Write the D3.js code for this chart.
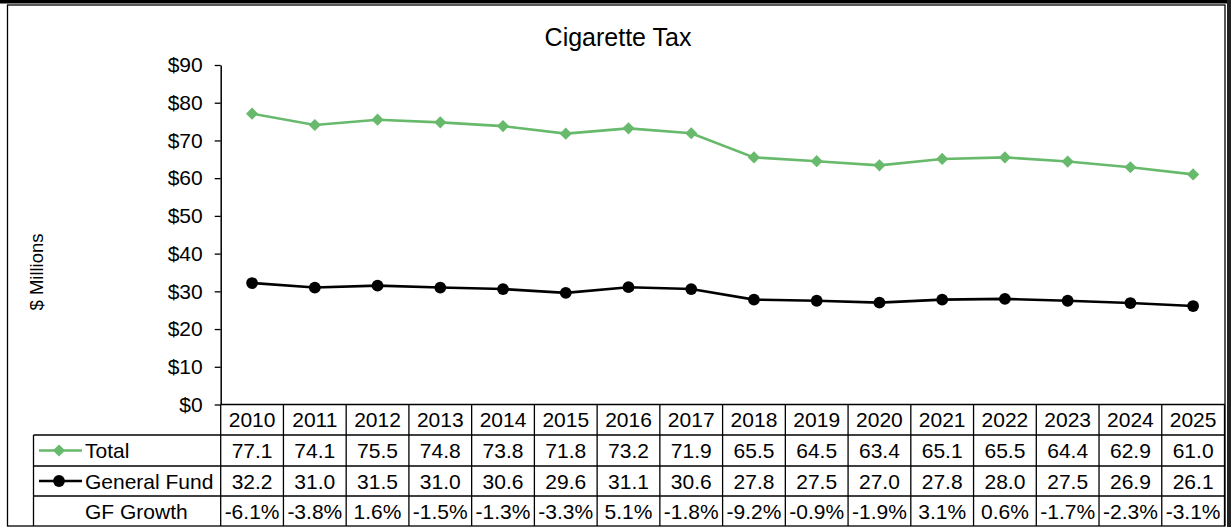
<!DOCTYPE html>
<html>
<head>
<meta charset="utf-8">
<script src="https://cdn.jsdelivr.net/npm/d3@7/dist/d3.min.js"></script>
<style>
  html, body { margin: 0; padding: 0; background: #fff; }
  svg { display: block; font-family: "Liberation Sans", Arial, sans-serif; }
</style>
</head>
<body>
<svg id="chart" width="1231" height="527"></svg>
<script>
// Cigarette tax collections, $ millions, fiscal years 2010-2025
const years = ["2010","2011","2012","2013","2014","2015","2016","2017","2018","2019","2020","2021","2022","2023","2024","2025"];
const totalValues = [77.1, 74.1, 75.5, 74.8, 73.8, 71.8, 73.2, 71.9, 65.5, 64.5, 63.4, 65.1, 65.5, 64.4, 62.9, 61.0];
const generalFundValues = [32.2, 31.0, 31.5, 31.0, 30.6, 29.6, 31.1, 30.6, 27.8, 27.5, 27.0, 27.8, 28.0, 27.5, 26.9, 26.1];
const gfGrowth = [-6.1, -3.8, 1.6, -1.5, -1.3, -3.3, 5.1, -1.8, -9.2, -0.9, -1.9, 3.1, 0.6, -1.7, -2.3, -3.1];
const yTicks = [0, 10, 20, 30, 40, 50, 60, 70, 80, 90];
const seriesNames = ["Total", "General Fund"];
const growthLabel = "GF Growth";

const svg = d3.select("#chart");
const green = "#67b96b";
const fs = 21;

// frame
svg.append("rect").attr("x", 0).attr("y", 0).attr("width", 1231).attr("height", 3.5).attr("fill", "#000");
svg.append("rect").attr("x", 1227).attr("y", 0).attr("width", 4).attr("height", 527).attr("fill", "#222");
svg.append("rect").attr("x", 7.5).attr("y", 5).attr("width", 1217.5).attr("height", 521)
  .attr("fill", "#fff").attr("stroke", "#000").attr("stroke-width", 1.3);

const plotLeft = 220.7, plotRight = 1224.5, plotTop = 65, plotBottom = 404.5;

const x = d3.scaleBand().domain(years).range([plotLeft, plotRight]).padding(0);
const y = d3.scaleLinear().domain([0, 90]).range([plotBottom, plotTop]);
const cx = i => x(years[i]) + x.bandwidth() / 2;

// title
svg.append("text").attr("x", 618).attr("y", 46).attr("text-anchor", "middle")
  .attr("font-size", 25).attr("fill", "#000").text("Cigarette Tax");

// y axis title
svg.append("text").attr("transform", "translate(43,272) rotate(-90)")
  .attr("text-anchor", "middle").attr("font-size", 18.5).text("$ Millions");

// y axis
const yAxis = d3.axisLeft(y).tickValues(yTicks).tickSize(6).tickSizeOuter(0).tickPadding(12)
  .tickFormat(d => "$" + d);
const ga = svg.append("g").attr("transform", `translate(${plotLeft},0)`).call(yAxis);
ga.select(".domain").attr("stroke", "#000").attr("stroke-width", 1.5);
ga.selectAll(".tick line").attr("stroke", "#000").attr("stroke-width", 1.3);
ga.selectAll(".tick text").attr("font-size", fs).attr("fill", "#000")
  .attr("font-family", "Liberation Sans, Arial, sans-serif");

// series lines
const line = d3.line().x((d, i) => cx(i)).y(d => y(d));
svg.append("path").datum(totalValues).attr("d", line).attr("fill", "none")
  .attr("stroke", green).attr("stroke-width", 2.6);
svg.append("path").datum(generalFundValues).attr("d", line).attr("fill", "none")
  .attr("stroke", "#000").attr("stroke-width", 2.6);

// markers
const diamondPath = d3.symbol().type(d3.symbolSquare).size(74)();
svg.selectAll(".tot").data(totalValues).enter().append("path")
  .attr("d", diamondPath)
  .attr("transform", (d, i) => `translate(${cx(i)},${y(d)}) rotate(45)`)
  .attr("fill", green);
svg.selectAll(".gf").data(generalFundValues).enter().append("circle")
  .attr("cx", (d, i) => cx(i)).attr("cy", d => y(d))
  .attr("r", 5.9).attr("fill", "#000");

// data table
const rowEdges = [404.5, 435, 466, 496, 526];
const legendLeft = 33.5;
const grid = svg.append("g").attr("stroke", "#000").attr("stroke-width", 1.3);
grid.append("line").attr("x1", plotLeft).attr("x2", plotRight).attr("y1", rowEdges[0]).attr("y2", rowEdges[0]);
[1, 2, 3].forEach(k => {
  grid.append("line").attr("x1", legendLeft).attr("x2", plotRight).attr("y1", rowEdges[k]).attr("y2", rowEdges[k]);
});
years.forEach(yr => {
  grid.append("line").attr("x1", x(yr)).attr("x2", x(yr)).attr("y1", rowEdges[0]).attr("y2", rowEdges[4]);
});
grid.append("line").attr("x1", plotRight).attr("x2", plotRight).attr("y1", rowEdges[0]).attr("y2", rowEdges[4]);
grid.append("line").attr("x1", legendLeft).attr("x2", legendLeft).attr("y1", rowEdges[1]).attr("y2", rowEdges[4]);

const rowCenter = k => (rowEdges[k] + rowEdges[k + 1]) / 2;
const cellText = (vals, k, fmt) => {
  svg.append("g").selectAll("text").data(vals).enter().append("text")
    .attr("x", (d, i) => cx(i))
    .attr("y", rowCenter(k) + 7.5)
    .attr("text-anchor", "middle").attr("font-size", fs).attr("fill", "#000")
    .text(fmt);
};
cellText(years, 0, d => d);
cellText(totalValues, 1, d => d.toFixed(1));
cellText(generalFundValues, 2, d => d.toFixed(1));
cellText(gfGrowth, 3, d => d.toFixed(1) + "%");

// legend keys inside the table
const keyX1 = 39, keyX2 = 82, keyMid = 59, labelX = 85;
svg.append("line").attr("x1", keyX1).attr("x2", keyX2).attr("y1", rowCenter(1)).attr("y2", rowCenter(1))
  .attr("stroke", green).attr("stroke-width", 2.6);
svg.append("path").attr("d", diamondPath)
  .attr("transform", `translate(${keyMid},${rowCenter(1)}) rotate(45)`).attr("fill", green);
svg.append("line").attr("x1", keyX1).attr("x2", keyX2).attr("y1", rowCenter(2)).attr("y2", rowCenter(2))
  .attr("stroke", "#000").attr("stroke-width", 2.6);
svg.append("circle").attr("cx", keyMid).attr("cy", rowCenter(2)).attr("r", 5.9).attr("fill", "#000");

[seriesNames[0], seriesNames[1], growthLabel].forEach((t, j) => {
  svg.append("text").attr("x", labelX).attr("y", rowCenter(j + 1) + 7.5)
    .attr("font-size", fs).attr("fill", "#000").text(t);
});
</script>
</body>
</html>
